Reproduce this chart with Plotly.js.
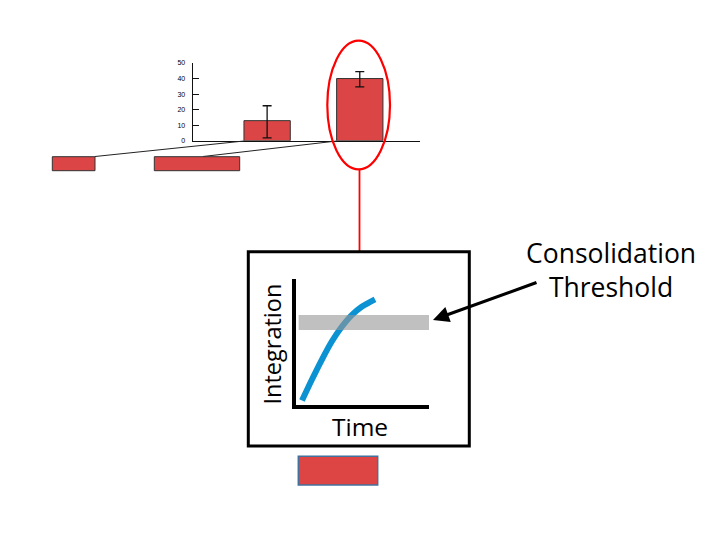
<!DOCTYPE html>
<html>
<head>
<meta charset="utf-8">
<script src="https://cdn.plot.ly/plotly-3.0.1.min.js"></script>
<style>html,body{margin:0;padding:0;background:#fff;}#chart{width:720px;height:540px;}</style>
</head>
<body>
<div id="chart"></div>
<script>
// ---- Data ----
var groups = ["Group 1", "Group 2"];
var barValues = [12.9, 40];
var errPlus = [9.6, 4.5];
var errMinus = [11.1, 5.4];
var yTickVals = [0, 10, 20, 30, 40, 50];

var time = [0.45, 1.18, 1.93, 2.68, 3.44, 4.19, 4.94, 5.94];
var integration = [0.35, 1.98, 3.57, 5.02, 6.21, 7.14, 7.8, 8.39];
var thresholdLow = 5.95;
var thresholdHigh = 7.15;

// ---- helpers: pixel -> paper ----
var W = 720, H = 540;
function px(x) { return x / W; }
function py(y) { return 1 - y / H; }

var barColor = "#db4545";

var traces = [
  {
    type: "bar", x: groups, y: barValues, width: 0.5,
    marker: {color: barColor, line: {color: "#333333", width: 1}},
    error_y: {type: "data", symmetric: false, array: errPlus, arrayminus: errMinus,
              color: "#111111", thickness: 1.3, width: 4.5},
    xaxis: "x", yaxis: "y", hoverinfo: "skip"
  },
  {
    type: "scatter", mode: "lines", x: time, y: integration,
    line: {color: "#0a92d2", width: 6, shape: "spline", smoothing: 0.8},
    xaxis: "x2", yaxis: "y2", hoverinfo: "skip"
  }
];

var shapes = [
  // connector lines from small rectangles to bars
  {type: "line", xref: "paper", yref: "paper", x0: px(95), y0: py(156.5), x1: px(244), y1: py(141),
   line: {color: "#222", width: 1}},
  {type: "line", xref: "paper", yref: "paper", x0: px(203), y0: py(156.5), x1: px(336.7), y1: py(141),
   line: {color: "#222", width: 1}},
  // small rectangles
  {type: "rect", xref: "paper", yref: "paper", x0: px(52.3), x1: px(95), y0: py(170.7), y1: py(156.7),
   fillcolor: barColor, line: {color: "#333", width: 1}},
  {type: "rect", xref: "paper", yref: "paper", x0: px(154.3), x1: px(239.7), y0: py(170.7), y1: py(156.7),
   fillcolor: barColor, line: {color: "#333", width: 1}},
  // red ellipse
  {type: "circle", xref: "paper", yref: "paper", x0: px(327.3), x1: px(390), y0: py(169.3), y1: py(40.7),
   line: {color: "#ff0000", width: 2.2}},
  // red connector
  {type: "line", xref: "paper", yref: "paper", x0: px(359.5), x1: px(359.5), y0: py(169.3), y1: py(251),
   line: {color: "#ff0000", width: 1.8}},
  // black box
  {type: "rect", xref: "paper", yref: "paper", x0: px(248.3), x1: px(469.3), y0: py(446), y1: py(251.7),
   line: {color: "#000", width: 3}},
  // threshold band
  {type: "rect", xref: "x2 domain", yref: "y2", x0: 0.02, x1: 1, y0: thresholdLow, y1: thresholdHigh,
   fillcolor: "rgb(150,150,150)", opacity: 0.6, line: {width: 0}, layer: "above"},
  // bottom rectangle
  {type: "rect", xref: "paper", yref: "paper", x0: px(298.3), x1: px(377.7), y0: py(485), y1: py(456.3),
   fillcolor: "#dd4444", line: {color: "#41719c", width: 1.5}}
];

var annFont = {family: "Open Sans, Noto Sans, sans-serif", color: "#000"};

var annotations = [
  {xref: "paper", yref: "paper", x: px(271.5), y: py(344), text: "Integration", textangle: -90,
   showarrow: false, font: Object.assign({size: 23.5}, annFont), xanchor: "center", yanchor: "middle"},
  {xref: "paper", yref: "paper", x: px(360), y: py(426), text: "Time",
   showarrow: false, font: Object.assign({size: 24.5}, annFont), xanchor: "center", yanchor: "middle"},
  {xref: "paper", yref: "paper", x: px(611), y: py(270), text: "Consolidation<br>Threshold",
   showarrow: false, font: Object.assign({size: 26.5}, annFont), xanchor: "center", yanchor: "middle", align: "center"},
  {xref: "paper", yref: "paper", x: px(433), y: py(320), text: "", showarrow: true,
   axref: "pixel", ayref: "pixel", ax: 105, ay: -38,
   arrowhead: 2, arrowsize: 1, arrowwidth: 3.2, arrowcolor: "#000", standoff: 0}
];

var layout = {
  width: W, height: H,
  margin: {l: 0, r: 0, t: 0, b: 0},
  paper_bgcolor: "#fff", plot_bgcolor: "rgba(0,0,0,0)",
  showlegend: false,
  xaxis: {domain: [px(193), px(420)], range: [-0.8, 1.65], showline: true, linecolor: "#111",
          linewidth: 1.4, showticklabels: false, ticks: "", showgrid: false, zeroline: false, fixedrange: true},
  yaxis: {domain: [py(140.7), py(63)], range: [0, 50], tickvals: yTickVals, showline: true,
          linecolor: "#111", linewidth: 1.4, ticks: "inside", ticklen: 6, tickcolor: "#111", tickwidth: 1,
          tickfont: {family: "Liberation Sans, Arial, sans-serif", size: 7, color: "#000"},
          ticklabelstandoff: 5, showgrid: false, zeroline: false, fixedrange: true},
  xaxis2: {domain: [px(296), px(429)], range: [0, 10], anchor: "y2", showline: true, linecolor: "#000",
           linewidth: 4, showticklabels: false, ticks: "", showgrid: false, zeroline: false},
  yaxis2: {domain: [py(405), py(279)], range: [0, 10], anchor: "x2", showline: true, linecolor: "#000",
           linewidth: 4, showticklabels: false, ticks: "", showgrid: false, zeroline: false},
  shapes: shapes,
  annotations: annotations
};

Plotly.newPlot("chart", traces, layout, {staticPlot: true, displayModeBar: false});
</script>
</body>
</html>
